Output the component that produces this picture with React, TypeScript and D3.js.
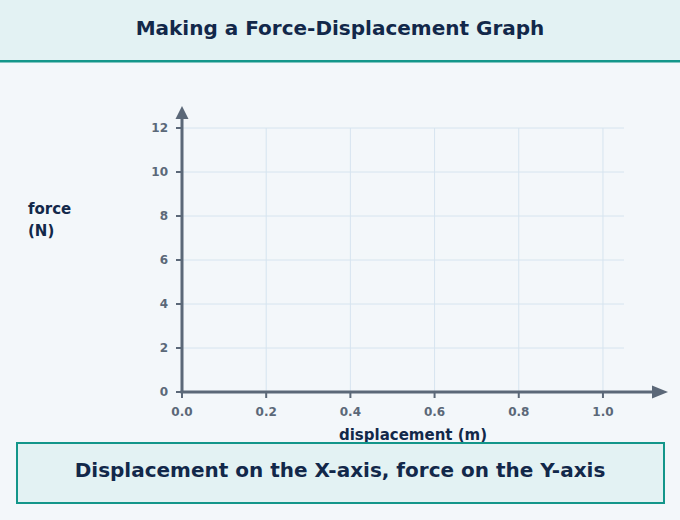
import React from 'react';
import * as d3 from 'd3';

const W = 680;
const H = 520;

const TITLE = 'Making a Force-Displacement Graph';
const CAPTION = 'Displacement on the X-axis, force on the Y-axis';
const X_LABEL = 'displacement (m)';
const Y_LABEL = ['force', '(N)'];

const X_TICKS = [0, 0.2, 0.4, 0.6, 0.8, 1.0];
const Y_TICKS = [0, 2, 4, 6, 8, 10, 12];
const X_DOMAIN = [0, 1.05];
const Y_DOMAIN = [0, 12];

const INK = '#12284a';
const AXIS = '#5b6878';
const GRID = '#d6e4ef';
const TEAL = '#13968a';
const PANEL = '#e3f2f3';
const BG = '#f3f7fa';
const FONT = '"DejaVu Sans", sans-serif';

const App: React.FC = () => {
  const x = d3.scaleLinear().domain(X_DOMAIN).range([182, 624]);
  const y = d3.scaleLinear().domain(Y_DOMAIN).range([392, 128]);
  const x0 = x(0);
  const y0 = y(0);

  return (
    <div style={{ position: 'fixed', left: 0, top: 0 }}>
      <svg width={W} height={H} viewBox={`0 0 ${W} ${H}`} style={{ display: 'block', fontFamily: FONT }}>
        <rect width={W} height={H} fill={BG} />

        {/* header */}
        <rect width={W} height={60} fill={PANEL} />
        <line x1={0} x2={W} y1={61.3} y2={61.3} stroke={TEAL} strokeWidth={2.6} />
        <text x={W / 2} y={28} textAnchor="middle" dominantBaseline="central" fontSize={20} fontWeight="bold" fill={INK}>
          {TITLE}
        </text>

        {/* grid */}
        {Y_TICKS.filter(t => t > 0).map(t => (
          <line key={`gy${t}`} x1={x0} x2={x(X_DOMAIN[1])} y1={y(t)} y2={y(t)} stroke={GRID} strokeWidth={1} />
        ))}
        {X_TICKS.filter(t => t > 0).map(t => (
          <line key={`gx${t}`} x1={x(t)} x2={x(t)} y1={y0} y2={y(Y_DOMAIN[1])} stroke={GRID} strokeWidth={1} />
        ))}

        {/* y ticks */}
        {Y_TICKS.map(t => (
          <g key={`ty${t}`}>
            <line x1={x0 - 6} x2={x0} y1={y(t)} y2={y(t)} stroke={AXIS} strokeWidth={2} />
            <text x={x0 - 14} y={y(t)} textAnchor="end" dominantBaseline="central" fontSize={12} fontWeight="bold" fill={AXIS}>
              {t}
            </text>
          </g>
        ))}

        {/* x ticks */}
        {X_TICKS.map(t => (
          <g key={`tx${t}`}>
            <line x1={x(t)} x2={x(t)} y1={y0} y2={y0 + 6} stroke={AXIS} strokeWidth={2} />
            <text x={x(t)} y={y0 + 19.5} textAnchor="middle" dominantBaseline="central" fontSize={12} fontWeight="bold" fill={AXIS}>
              {t.toFixed(1)}
            </text>
          </g>
        ))}

        {/* axes with arrows */}
        <line x1={x0} x2={x0} y1={y0} y2={118} stroke={AXIS} strokeWidth={3} />
        <path d={`M${x0},106 L${x0 + 6.5},119 L${x0 - 6.5},119 Z`} fill={AXIS} />
        <line x1={x0 - 1.5} x2={654} y1={y0} y2={y0} stroke={AXIS} strokeWidth={3} />
        <path d={`M668,${y0} L652,${y0 - 6.5} L652,${y0 + 6.5} Z`} fill={AXIS} />

        {/* axis titles */}
        <text x={413} y={435} textAnchor="middle" dominantBaseline="central" fontSize={15} fontWeight="bold" fill={INK}>
          {X_LABEL}
        </text>
        {Y_LABEL.map((s, i) => (
          <text key={s} x={28} y={209 + i * 22} dominantBaseline="central" fontSize={15} fontWeight="bold" fill={INK}>
            {s}
          </text>
        ))}

        {/* caption box */}
        <rect x={17} y={443} width={647} height={60} fill={PANEL} stroke={TEAL} strokeWidth={2} />
        <text x={W / 2} y={470} textAnchor="middle" dominantBaseline="central" fontSize={20} fontWeight="bold" fill={INK}>
          {CAPTION}
        </text>
      </svg>
    </div>
  );
};

export default App;
